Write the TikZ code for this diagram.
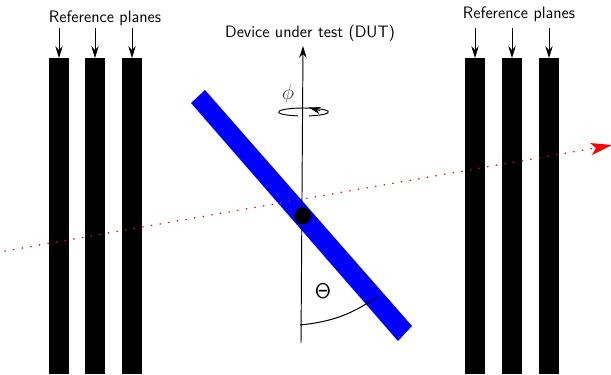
\documentclass[tikz,border=0pt]{standalone}
\usepackage{tikz}
\usetikzlibrary{arrows.meta}
\renewcommand{\familydefault}{\sfdefault}
\tikzset{plane/.style={fill=black,inner sep=0pt,minimum width=13.6pt,minimum height=215pt,anchor=north},
  tip/.style={-{Stealth[length=8pt,width=5pt]},line width=0.6pt},
  lbl/.style={font=\fontsize{11.25}{13}\selectfont}}
\begin{document}
\begin{tikzpicture}[x=0.68pt,y=-0.68pt]
\useasboundingbox (0,0) rectangle (611,374);
\foreach \n/\x in {a/59,b/95,c/132,d/475,e/512,f/549} {\node[plane] (plane\n) at (\x,58) {};}
\node[lbl] (refl) at (105,18) {Reference planes};
\node[lbl] (refr) at (519,14) {Reference planes};
\foreach \n in {a,b,c,d,e,f} {\draw[tip] ([yshift=30*0.68pt]plane\n.north) -- (plane\n.north);}
\fill[blue] (191,103)--(205,90)--(412,326)--(398,341)--cycle;
\coordinate (axisend) at (301,343);
\coordinate (axistop) at (303,46);
\draw[tip,line width=0.65pt] (axisend)--(axistop);
\node[lbl] (dut) at (310,33) {Device under test (DUT)};
\draw[line width=0.65pt] (303.5,112) ++(103:25 and 4) arc[start angle=103,end angle=437,x radius=25,y radius=4];
\draw[tip] (320,110.5)--(309,107.5);
\node[text=black!75] (phi) at (288,94) {\fontsize{15}{15}\selectfont $\phi$};
\fill (303,216) circle (8.5);
\node (theta) at (323,291) {\Large $\mathsf{\Theta}$};
\coordinate (arcl) at (300,325);
\coordinate (arcr) at (377,297);
\draw[line width=0.7pt] (arcl) to[bend right=14] (arcr);
\coordinate (beamin) at (5,251);
\coordinate (beamout) at (612,145);
\draw[red,line width=1.1pt,line cap=round,dash pattern=on 0.1pt off 5.85pt] (beamin)--(598,147.5);
\fill[red] (590,143)--(beamout)--(592,155)--(596,148)--cycle;
\end{tikzpicture}
\end{document}
